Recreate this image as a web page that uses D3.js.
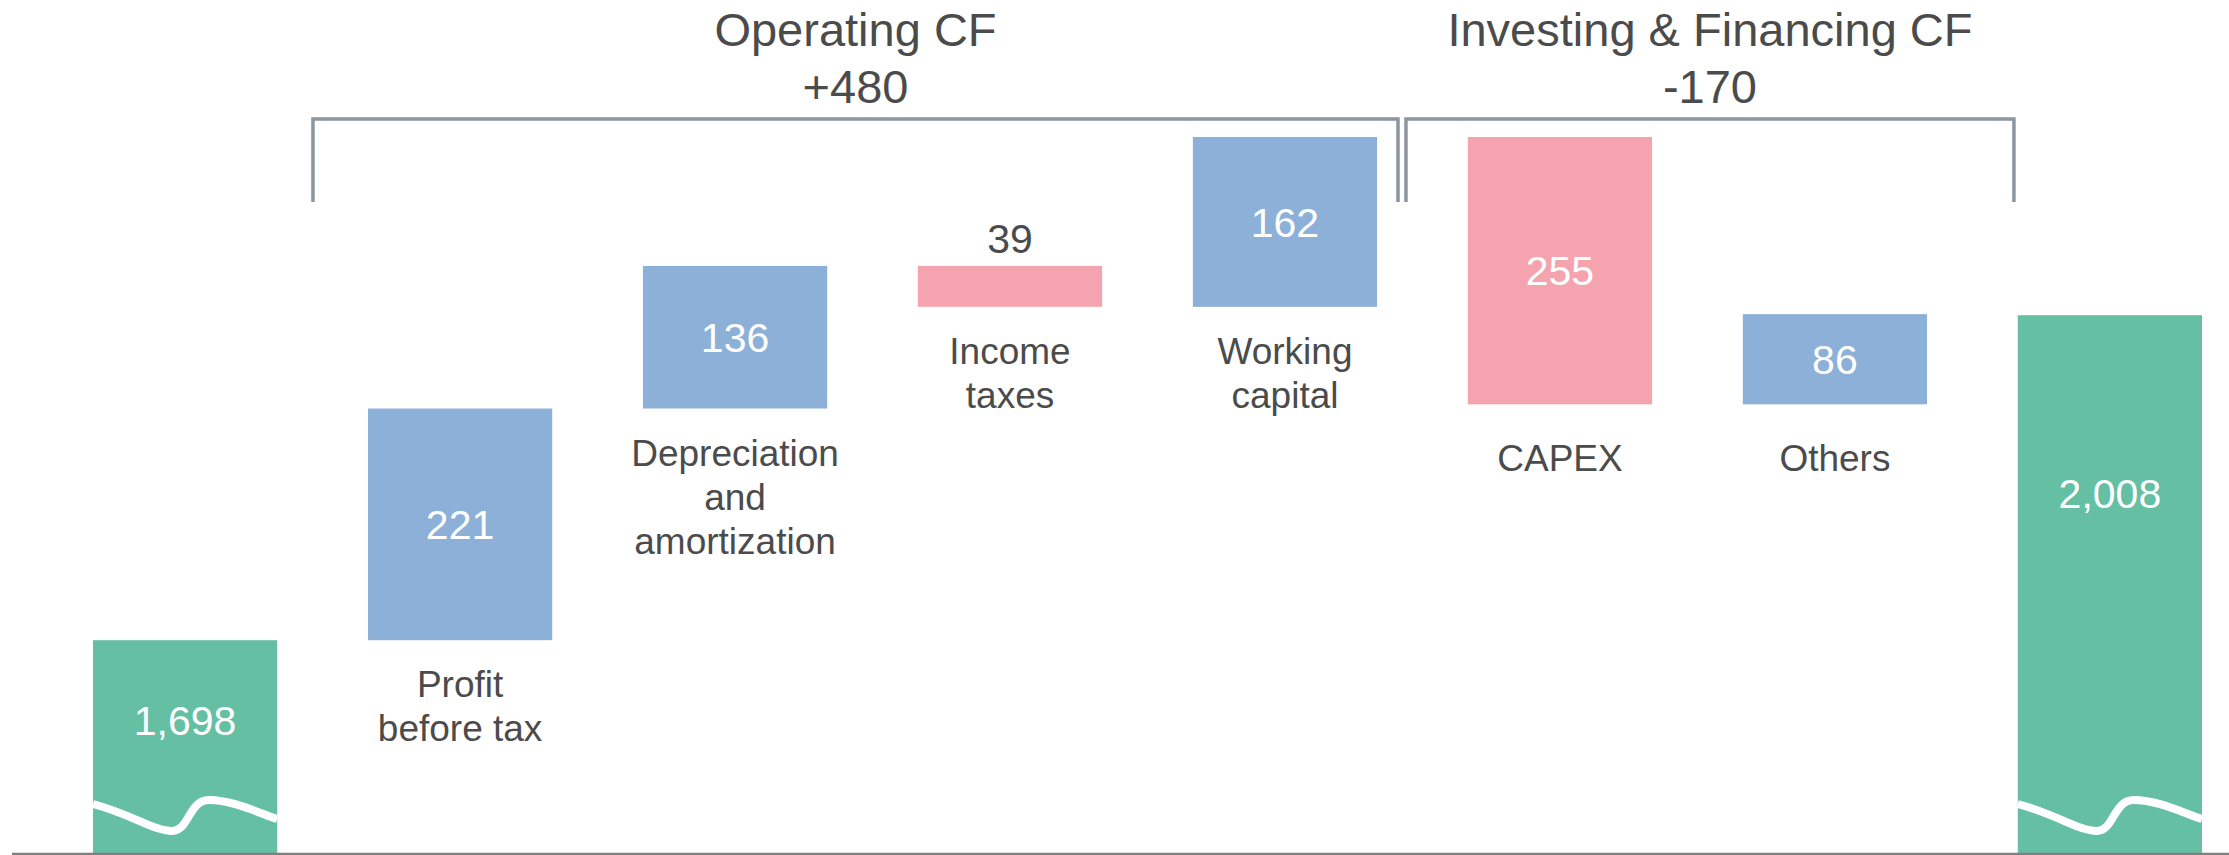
<!DOCTYPE html>
<html>
<head>
<meta charset="utf-8">
<script src="https://cdn.jsdelivr.net/npm/d3@7"></script>
<style>
body { margin: 0; background: #fff; }
text { font-family: "Liberation Sans", Arial, sans-serif; }
</style>
</head>
<body>
<svg id="chart"></svg>
<script>
// chart data
var categories = ["Start", "Profit before tax", "Depreciation and amortization", "Income taxes", "Working capital", "CAPEX", "Others", "End"];
var labelLines = [[], ["Profit", "before tax"], ["Depreciation", "and", "amortization"], ["Income", "taxes"], ["Working", "capital"], ["CAPEX"], ["Others"], []];
var values = [1698, 221, 136, -39, 162, -255, 86, 2008];
var isTotal = [true, false, false, false, false, false, false, true];
var groupNames = ["Operating CF", "Investing & Financing CF"];
var groupTotals = ["+480", "-170"];
var groupFirst = [1, 5];
var groupLast = [4, 6];

var W = 2229, H = 855;
var baseY = 853;
var textColor = "#4b4b4b";
var colors = { total: "#65bfa3", up: "#8db0d8", down: "#f5a3af" };

var svg = d3.select("#chart")
    .attr("width", W)
    .attr("height", H);

var x = d3.scaleBand()
    .domain(categories)
    .range([93, 2202])
    .paddingInner(0.33)
    .paddingOuter(0);

// broken axis: does not start at zero
var y = d3.scaleLinear()
    .domain([1495, 2178])
    .range([baseY, 137]);

var fmt = d3.format(",");

// waterfall running totals
var run = 0;
var bars = values.map(function(v, i) {
    if (isTotal[i]) {
        run = v;
        return { i: i, name: categories[i], v: v, lo: y.domain()[0], hi: v, kind: "total" };
    }
    var s = run;
    run += v;
    return { i: i, name: categories[i], v: v, lo: Math.min(s, run), hi: Math.max(s, run), kind: v >= 0 ? "up" : "down" };
});

var bw = x.bandwidth();

svg.selectAll("rect.bar")
    .data(bars)
    .enter()
    .append("rect")
    .attr("class", "bar")
    .attr("x", function(d) { return x(d.name); })
    .attr("y", function(d) { return y(d.hi); })
    .attr("width", bw)
    .attr("height", function(d) { return y(d.lo) - y(d.hi); })
    .style("fill", function(d) { return colors[d.kind]; });

// axis break wave on the total bars
function wave(x0, w) {
    var p = d3.path();
    p.moveTo(x0, baseY - 49);
    p.bezierCurveTo(x0 + 0.22 * w, baseY - 38, x0 + 0.33 * w, baseY - 22, x0 + 0.43 * w, baseY - 22);
    p.bezierCurveTo(x0 + 0.52 * w, baseY - 22, x0 + 0.52 * w, baseY - 53, x0 + 0.63 * w, baseY - 53);
    p.bezierCurveTo(x0 + 0.76 * w, baseY - 53, x0 + 0.9 * w, baseY - 40, x0 + w, baseY - 34);
    return p.toString();
}

svg.selectAll("path.wave")
    .data(bars.filter(function(d) { return d.kind == "total"; }))
    .enter()
    .append("path")
    .attr("class", "wave")
    .attr("d", function(d) { return wave(x(d.name), bw); })
    .attr("fill", "none")
    .attr("stroke", "#fff")
    .attr("stroke-width", 8);

// baseline
svg.append("line")
    .attr("x1", 12)
    .attr("x2", W)
    .attr("y1", baseY + 1)
    .attr("y2", baseY + 1)
    .attr("stroke", "#7f7f7f")
    .attr("stroke-width", 2.5);

// value labels
svg.selectAll("text.val")
    .data(bars)
    .enter()
    .append("text")
    .attr("class", "val")
    .attr("x", function(d) { return x(d.name) + bw / 2; })
    .attr("y", function(d) {
        var top = y(d.hi), bot = y(d.lo);
        if (d.kind == "total") return top + Math.min((baseY - 53 - top) / 2, 178);
        if (bot - top < 60) return top - 13;
        return (top + bot) / 2;
    })
    .attr("dy", function(d) {
        var h = y(d.lo) - y(d.hi);
        return (d.kind != "total" && h < 60) ? "0" : "0.36em";
    })
    .attr("text-anchor", "middle")
    .style("font-size", "41px")
    .style("fill", function(d) {
        var h = y(d.lo) - y(d.hi);
        return (d.kind != "total" && h < 60) ? textColor : "#fff";
    })
    .text(function(d) { return fmt(Math.abs(d.v)); });

// category labels below the bars
var catLabels = svg.selectAll("text.cat")
    .data(bars.filter(function(d) { return labelLines[d.i].length > 0; }))
    .enter()
    .append("text")
    .attr("class", "cat")
    .attr("text-anchor", "middle")
    .style("font-size", "37px")
    .style("fill", textColor)
    .attr("transform", function(d) {
        var off = labelLines[d.i].length == 1 ? 67 : 57;
        return "translate(" + (x(d.name) + bw / 2) + "," + (y(d.lo) + off) + ")";
    });

catLabels.selectAll("tspan")
    .data(function(d) { return labelLines[d.i]; })
    .enter()
    .append("tspan")
    .attr("x", 0)
    .attr("y", function(d, j) { return j * 44; })
    .text(function(d) { return d; });

// group brackets
var step = x.step();
var leftPad = [-0.2 * step, -0.225 * step];
var rightPad = [0.076 * step, 0.316 * step];

var groups = groupNames.map(function(n, k) {
    return {
        name: n,
        total: groupTotals[k],
        x1: x(categories[groupFirst[k]]) + leftPad[k],
        x2: x(categories[groupLast[k]]) + bw + rightPad[k]
    };
});

var g = svg.selectAll("g.grp")
    .data(groups)
    .enter()
    .append("g")
    .attr("class", "grp");

g.append("path")
    .attr("d", function(d) {
        return "M" + d.x1 + ",202V119H" + d.x2 + "V202";
    })
    .attr("fill", "none")
    .attr("stroke", "#8b96a1")
    .attr("stroke-width", 3.5);

g.append("text")
    .attr("x", function(d) { return (d.x1 + d.x2) / 2; })
    .attr("y", 46)
    .attr("text-anchor", "middle")
    .style("font-size", "47px")
    .style("fill", textColor)
    .text(function(d) { return d.name; });

g.append("text")
    .attr("x", function(d) { return (d.x1 + d.x2) / 2; })
    .attr("y", 103)
    .attr("text-anchor", "middle")
    .style("font-size", "47px")
    .style("fill", textColor)
    .text(function(d) { return d.total; });
</script>
</body>
</html>
